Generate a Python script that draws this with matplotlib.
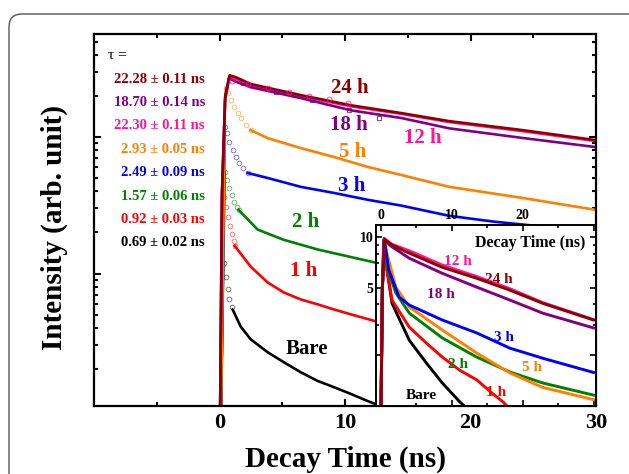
import numpy as np
import matplotlib
matplotlib.use('Agg')
import matplotlib.pyplot as plt
from matplotlib.patches import FancyBboxPatch
from matplotlib.ticker import FixedLocator, NullFormatter

plt.rcParams['font.family'] = ['Liberation Serif', 'DejaVu Serif']
plt.rcParams['font.weight'] = 'bold'

# ---- main panel data (time in ns, intensity in arb. units) ----
t24 = [0.05, 0.2, 0.45, 0.8, 1.3, 2.5, 6.5, 10.5, 14.5, 18.3, 24.0, 30.0]
i24 = [100, 4000, 20000, 28400, 27500, 24500, 20300, 17100, 15000, 13100, 11300, 9500]
t12 = [0.05, 0.2, 0.45, 0.8, 1.3, 2.5, 6.5, 10.5, 14.5, 18.3, 24.0, 30.0]
i12 = [100, 3800, 19000, 27800, 26800, 23900, 19900, 16800, 14800, 12900, 11100, 9350]
t18 = [0.05, 0.2, 0.45, 0.75, 1.3, 2.5, 6.5, 10.5, 14.5, 18.3, 24.0, 30.0]
i18 = [100, 3800, 19000, 27000, 25500, 23200, 19300, 15700, 13800, 11600, 9900, 8450]
t12_mk = [1.0, 2.3, 3.9, 5.5, 7.1, 8.7, 10.2]
i12_mk = [26000, 24400, 22800, 21300, 19900, 18900, 17700]
t18_mk = [1.9, 4.5, 7.4, 10.3, 12.7]
i18_mk = [24800, 21300, 18600, 15700, 13800]

t5_mk = [0.48, 0.64, 0.88, 1.12, 1.44, 1.68, 2.08, 2.48]
i5_mk = [22800, 20900, 18600, 16600, 15000, 13800, 12200, 11250]
t5 = [2.48, 3.84, 6.48, 9.12, 11.84, 14.48, 18.32, 24.0, 30.0]
i5 = [11250, 9830, 8310, 7150, 6040, 5280, 4320, 3600, 2930]

t3_mk = [0.45, 0.56, 0.72, 1.04, 1.28, 1.52, 1.84, 2.24]
i3_mk = [11800, 10700, 9200, 8040, 7150, 6460, 5940, 5460]
t3 = [2.24, 3.84, 6.48, 9.12, 11.84, 14.48, 18.3, 21.9, 26.0, 30.0]
i3 = [5460, 5020, 4320, 3900, 3470, 3150, 2650, 2400, 2200, 2000]

t2_mk = [0.45, 0.56, 0.72, 0.96, 1.12, 1.36, 1.52]
i2_mk = [5550, 4850, 4250, 3780, 3360, 3090, 2930]
t2 = [1.52, 3.04, 5.1, 7.84, 12.48, 20.0, 30.0]
i2 = [2930, 2100, 1770, 1500, 1200, 950, 700]

t1_mk = [0.32, 0.48, 0.64, 0.8, 0.96, 1.12, 1.2]
i1_mk = [3650, 3090, 2610, 2240, 1960, 1740, 1600]
t1 = [1.2, 1.44, 2.48, 3.84, 5.12, 6.48, 7.84, 9.12, 10.48, 12.48, 20.0, 30.0]
i1 = [1600, 1500, 1125, 860, 727, 646, 594, 546, 502, 446, 330, 230]

t0_mk = [0.32, 0.48, 0.64, 0.72, 0.96]
i0_mk = [1200, 950, 765, 646, 565]
t0 = [1.04, 1.12, 1.68, 2.48, 3.84, 5.12, 6.48, 7.84, 9.12, 10.48, 11.84, 12.5, 13.5]
i0 = [545, 528, 410, 330, 265, 224, 189, 163, 147, 131, 116, 110, 95]

t_on = 0.15
floor = 90

# ---- inset data (normalised) ----
s24_t = [0.0, 0.2, 0.5, 1.5, 4.0, 8.6, 13.5, 18.2, 22.8, 30.0]
s24_v = [0.9, 5.0, 9.7, 9.0, 8.04, 6.64, 5.71, 4.85, 4.06, 3.23]
s12_t = [0.0, 0.2, 0.5, 1.5, 4.0, 8.6, 13.5, 18.2, 22.8, 30.0]
s12_v = [0.9, 5.0, 9.8, 9.1, 8.3, 6.85, 5.85, 4.95, 4.1, 3.25]
s18_t = [0.0, 0.2, 0.5, 1.5, 4.0, 8.6, 13.5, 18.2, 22.8, 30.0]
s18_v = [0.9, 5.0, 9.6, 8.8, 7.5, 6.12, 5.06, 4.24, 3.55, 2.9]
s3_t = [0.0, 0.2, 0.45, 1.1, 2.55, 4.0, 8.65, 13.5, 18.2, 22.8, 30.0]
s3_v = [0.9, 5.0, 9.8, 6.4, 4.42, 3.96, 3.23, 2.71, 2.2, 1.92, 1.58]
s5_t = [0.0, 0.2, 0.45, 0.85, 2.1, 4.0, 8.65, 13.5, 18.2, 22.8, 30.0]
s5_v = [0.9, 5.0, 9.8, 8.0, 5.06, 3.86, 2.82, 2.06, 1.57, 1.29, 1.09]
s2_t = [0.0, 0.2, 0.45, 0.85, 2.1, 4.0, 8.65, 13.5, 18.2, 22.8, 30.0]
s2_v = [0.9, 5.0, 9.7, 6.64, 4.67, 3.55, 2.53, 1.95, 1.59, 1.37, 1.16]
s1_t = [0.0, 0.2, 0.4, 0.7, 1.56, 4.0, 6.4, 8.65, 11.1, 13.5, 15.7, 17.2, 18.0]
s1_v = [0.9, 5.0, 9.6, 7.0, 4.24, 2.93, 2.36, 1.95, 1.63, 1.43, 1.19, 1.06, 0.98]
s0_t = [0.0, 0.2, 0.4, 0.85, 1.56, 4.0, 6.4, 8.65, 11.1, 12.0]
s0_v = [0.9, 5.0, 9.5, 6.4, 4.06, 2.45, 1.8, 1.37, 1.06, 0.98]

labels = ['24 h', '18 h', '12 h', '5 h', '3 h', '2 h', '1 h', 'Bare']
colors = ['#8B0000', '#800080', '#FF1493', '#FF8000', '#0000FF', '#008000', '#FF0000', 'black']
tau_val = ['22.28', '18.70', '22.30', '2.93', '2.49', '1.57', '0.92', '0.69']
tau_err = ['0.11', '0.14', '0.11', '0.05', '0.09', '0.06', '0.03', '0.02']

# label anchors in data coords
lab_t = [10.4, 10.3, 16.2, 10.6, 10.5, 6.9, 6.7, 7.0]
lab_i = [22800, 12240, 9830, 7770, 4390, 2400, 1050, 279]
ins_lab_t = [16.6, 8.5, 10.9, 21.3, 17.4, 10.9, 16.3, 5.7]
ins_lab_v = [5.64, 4.60, 7.21, 1.70, 2.56, 1.75, 1.21, 1.15]

fig = plt.figure(figsize=(6.29, 4.74), dpi=100)
ax = fig.add_axes([94/629, 1-406/474, 502/629, 372/474])

lw = 1.9
# lower curves: rise, open circles, then decay line
lower = [(t5_mk, i5_mk, t5, i5, colors[3]),
         (t3_mk, i3_mk, t3, i3, colors[4]),
         (t2_mk, i2_mk, t2, i2, colors[5]),
         (t1_mk, i1_mk, t1, i1, colors[6]),
         (t0_mk, i0_mk, t0, i0, colors[7])]
for tm, im, tl, il, c in reversed(lower):
    ax.plot([t_on, tm[0]], [floor, im[0]], color=c, lw=1.3)
    ax.plot(tm, im, 'o', mfc='none', mec=c, mew=0.6, ms=3.4, alpha=0.6)
    ax.plot(tl, il, color=c, lw=lw)

ax.plot(t12, i12, color=colors[2], lw=lw)
ax.plot(t18, i18, color=colors[1], lw=lw)
ax.plot(t24, i24, color=colors[0], lw=lw)
ax.plot(t12_mk, i12_mk, 'o', mfc='none', mec=colors[2], mew=0.7, ms=3.5, alpha=0.8)
ax.plot(t18_mk, i18_mk, 's', mfc='none', mec=colors[1], mew=0.7, ms=3.2, alpha=0.8)

for lab, c, x, y in zip(labels, colors, lab_t, lab_i):
    ax.text(x, y, lab, color=c, fontsize=15, fontweight='bold', ha='center', va='center')

ax.text(0.028, 0.941, 'τ =', transform=ax.transAxes, fontsize=11,
        fontweight='normal', ha='left', va='center')
for k, (v, e, c) in enumerate(zip(tau_val, tau_err, colors)):
    ax.text(0.221, 0.879 - k*0.0629, v + ' ± ' + e + ' ns', transform=ax.transAxes,
            color=c, fontsize=10.5, fontweight='bold', ha='right', va='center')

ax.set_yscale('log')
ax.set_xlim(-10, 30)
ax.set_ylim(107, 57000)
ax.set_xticks([0, 10, 20, 30])
ax.set_xticks([-5, 5, 15, 25], minor=True)
ax.set_xticklabels(['0', '10', '20', '30'])
ax.yaxis.set_major_locator(FixedLocator([1e3, 1e4]))
ax.yaxis.set_minor_locator(FixedLocator([m*10**d for d in [2, 3, 4] for m in range(2, 10)]))
ax.yaxis.set_major_formatter(NullFormatter())
ax.yaxis.set_minor_formatter(NullFormatter())
ax.tick_params(which='both', direction='in', top=True, right=True, width=1.5)
ax.tick_params(which='major', length=5)
ax.tick_params(which='minor', length=3)
ax.tick_params(axis='x', labelsize=16, pad=5)
for sp in ax.spines.values():
    sp.set_linewidth(1.6)

fig.text(345/629, 1-459/474, 'Decay Time (ns)', fontsize=21, fontweight='bold',
         ha='center', va='center')
fig.text(54/629, 1-228/474, 'Intensity (arb. unit)', fontsize=21, fontweight='bold',
         rotation=90, ha='center', va='center')

# ---- inset ----
axi = fig.add_axes([376/629, 1-406/474, 220/629, 181/474], zorder=5)
axi.set_facecolor('white')
ins = [(s0_t, s0_v, colors[7]), (s1_t, s1_v, colors[6]), (s2_t, s2_v, colors[5]),
       (s5_t, s5_v, colors[3]), (s3_t, s3_v, colors[4]), (s18_t, s18_v, colors[1]),
       (s12_t, s12_v, colors[2]), (s24_t, s24_v, colors[0])]
for ts, vs, c in ins:
    axi.plot(ts, vs, color=c, lw=2.1)

for k in range(len(labels)):
    axi.text(ins_lab_t[k], ins_lab_v[k], labels[k], color=colors[k], fontsize=11,
             fontweight='bold', ha='center', va='center')
axi.text(0.70, 0.90, 'Decay Time (ns)', transform=axi.transAxes, fontsize=11.5,
         fontweight='bold', ha='center', va='center')

axi.set_yscale('log')
axi.set_xlim(-0.7, 30.35)
axi.set_ylim(1.0, 11.8)
axi.set_xticks([0, 10, 20, 30])
axi.set_xticklabels(['0', '10', '20', ''])
axi.set_xticks([5, 15, 25], minor=True)
axi.yaxis.set_major_locator(FixedLocator([2, 5, 10]))
axi.yaxis.set_minor_locator(FixedLocator([3, 4, 6, 7, 8, 9]))
axi.set_yticklabels(['', '5', '10'])
axi.yaxis.set_minor_formatter(NullFormatter())
axi.tick_params(which='both', direction='in', top=True, right=True, bottom=True,
                labeltop=True, labelbottom=False, width=1.2, labelsize=10, pad=2)
axi.tick_params(which='major', length=4)
axi.tick_params(which='minor', length=2.5)
for sp in axi.spines.values():
    sp.set_linewidth(1.4)

frame = FancyBboxPatch((0.09, -0.3), 6.4, 4.74 - 0.14 + 0.3,
                       boxstyle='round,pad=0,rounding_size=0.13',
                       transform=fig.dpi_scale_trans, fill=False,
                       edgecolor='#555555', lw=1.0, clip_on=False)
fig.add_artist(frame)

fig.savefig('out.png', dpi=100)
